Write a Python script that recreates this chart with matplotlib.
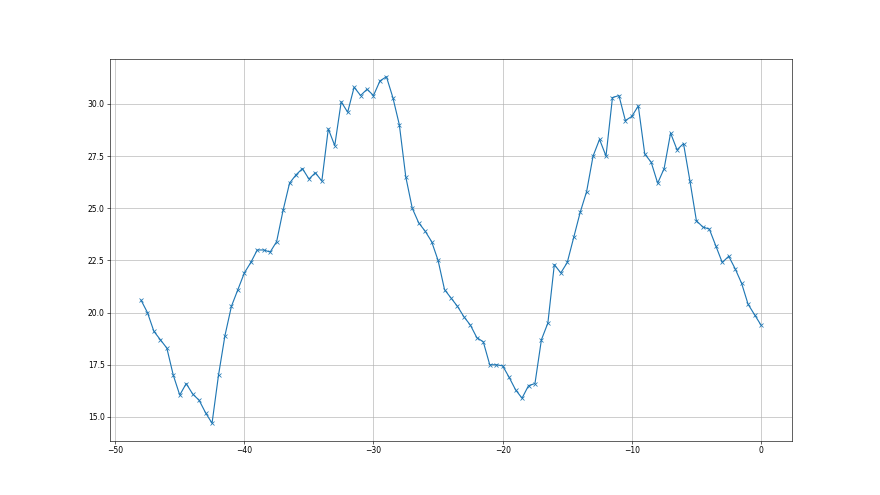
import matplotlib
matplotlib.use("Agg")
import matplotlib.pyplot as plt
import numpy as np

# hours before now, half-hour steps
x_vals = np.arange(-48.0, 0.5, 0.5)
y_vals = [20.6, 20.0, 19.1, 18.7, 18.3, 17.0, 16.05, 16.6, 16.1, 15.8, 15.2, 14.7,
          17.0, 18.9, 20.3, 21.1, 21.9, 22.4, 23.0, 23.0, 22.9, 23.4, 24.9, 26.2,
          26.6, 26.9, 26.4, 26.7, 26.3, 28.8, 28.0, 30.1, 29.6, 30.8, 30.4, 30.7,
          30.4, 31.1, 31.3, 30.3, 29.0, 26.5, 25.0, 24.3, 23.9, 23.4, 22.5, 21.1,
          20.7, 20.3, 19.8, 19.4, 18.8, 18.6, 17.5, 17.5, 17.45, 16.9, 16.3, 15.9,
          16.5, 16.6, 18.7, 19.5, 22.3, 21.9, 22.4, 23.6, 24.8, 25.8, 27.5, 28.3,
          27.5, 30.3, 30.4, 29.2, 29.4, 29.9, 27.6, 27.2, 26.2, 26.9, 28.6, 27.8,
          28.1, 26.3, 24.4, 24.1, 24.0, 23.2, 22.4, 22.7, 22.1, 21.4, 20.4, 19.9,
          19.4]

fig = plt.figure(figsize=(16, 9), dpi=55)
plt.plot(x_vals, y_vals, marker="x")
plt.grid(True)
plt.savefig("out.png", dpi=55)
